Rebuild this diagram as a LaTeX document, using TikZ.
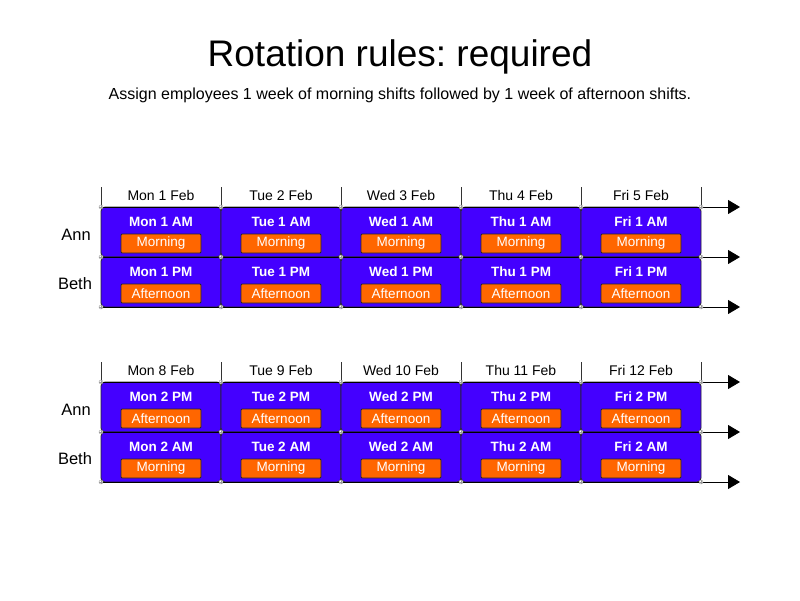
\documentclass[tikz,border=0pt]{standalone}
\usepackage{fontspec}
\setmainfont{Liberation Sans}
\usetikzlibrary{arrows.meta}
\definecolor{cellblue}{HTML}{4400FF}
\definecolor{shiftorange}{HTML}{FF6600}
\frenchspacing
\begin{document}
\begin{tikzpicture}[x=1pt,y=-1pt,
  cell/.style={draw=black!85, fill=cellblue, rounded corners=4pt, minimum width=120pt, minimum height=50pt, inner sep=0pt, line width=0.8pt},
  shiftbox/.style={draw=black!85, fill=shiftorange, minimum width=80pt, minimum height=19pt, inner sep=0pt, text=white, font=\fontsize{13.5}{15}\selectfont, rounded corners=1pt, line width=0.8pt},
  celltitle/.style={text=white, font=\bfseries\fontsize{13.5}{15}\selectfont, inner sep=0pt},
  dayhead/.style={font=\fontsize{14}{16}\selectfont, inner sep=0pt},
  person/.style={font=\fontsize{16.5}{18}\selectfont, inner sep=0pt},
  timeline/.style={-{Triangle[length=12pt,width=14pt]}, line width=0.8pt},
  daytick/.style={line width=0.8pt, black!80},
  junction/.style={circle, draw=gray!80, fill=white, inner sep=0pt, minimum size=4pt, line width=0.4pt,
    path picture={\draw[gray!80, line width=0.4pt] (path picture bounding box.north) -- (path picture bounding box.south) (path picture bounding box.west) -- (path picture bounding box.east);}}
]
\useasboundingbox[fill=white] (0,0) rectangle (800,600);

\node[font=\fontsize{37}{40}\selectfont] (title) at (400,57) {Rotation rules: required};
\node[font=\fontsize{16}{18}\selectfont] (subtitle) at (400,95) {Assign employees 1 week of morning shifts followed by 1 week of afternoon shifts.};

% ---------- Week 1 ----------
\foreach \x [count=\k] in {101,221,341,461,581,701}
  \draw[daytick] (\x,187) -- (\x,207);
\foreach \d/\n [count=\i from 0] in {Mon/1,Tue/2,Wed/3,Thu/4,Fri/5} {
  \pgfmathsetmacro\cx{161+120*\i}
  \node[dayhead] (ha\i) at (\cx,195) {\d\ \n\ Feb};
  \node[cell] (ca\i) at (\cx,232) {};
  \node[celltitle] (ta\i) at (\cx,222) {\d\ 1 AM};
  \node[shiftbox] (sa\i) at (\cx,243.5) {Morning};
  \node[cell] (cb\i) at (\cx,282) {};
  \node[celltitle] (tb\i) at (\cx,272) {\d\ 1 PM};
  \node[shiftbox] (sb\i) at (\cx,293.5) {Afternoon};
}
\foreach \y/\r in {207/a,257/b,307/c} {
  \coordinate (w1s\r) at (101,\y);
  \coordinate (w1e\r) at (740,\y);
  \draw[timeline] (w1s\r) -- (w1e\r);
}
\foreach \x [count=\k] in {101,221,341,461,581,701}
  \foreach \y [count=\m] in {207,257,307}
    \node[junction] (ja\k\m) at (\x,\y) {};
\node[person] (anna) at (76,235) {Ann};
\node[person] (betha) at (75,284) {Beth};

% ---------- Week 2 ----------
\foreach \x [count=\k] in {101,221,341,461,581,701}
  \draw[daytick] (\x,362) -- (\x,382);
\foreach \d/\n [count=\i from 0] in {Mon/8,Tue/9,Wed/10,Thu/11,Fri/12} {
  \pgfmathsetmacro\cx{161+120*\i}
  \node[dayhead] (hb\i) at (\cx,370) {\d\ \n\ Feb};
  \node[cell] (cc\i) at (\cx,407) {};
  \node[celltitle] (tc\i) at (\cx,397) {\d\ 2 PM};
  \node[shiftbox] (sc\i) at (\cx,418.5) {Afternoon};
  \node[cell] (cd\i) at (\cx,457) {};
  \node[celltitle] (td\i) at (\cx,447) {\d\ 2 AM};
  \node[shiftbox] (sd\i) at (\cx,468.5) {Morning};
}
\foreach \y/\r in {382/a,432/b,482/c} {
  \coordinate (w2s\r) at (101,\y);
  \coordinate (w2e\r) at (740,\y);
  \draw[timeline] (w2s\r) -- (w2e\r);
}
\foreach \x [count=\k] in {101,221,341,461,581,701}
  \foreach \y [count=\m] in {382,432,482}
    \node[junction] (jb\k\m) at (\x,\y) {};
\node[person] (annb) at (76,410) {Ann};
\node[person] (bethb) at (75,459) {Beth};
\end{tikzpicture}
\end{document}
